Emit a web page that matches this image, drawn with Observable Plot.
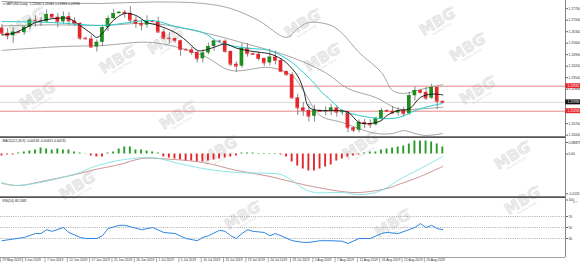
<!DOCTYPE html>
<html><head><meta charset="utf-8">
<script src="https://cdn.jsdelivr.net/npm/d3@7"></script>
<script src="https://cdn.jsdelivr.net/npm/@observablehq/plot@0.6"></script>
<style>
html,body{margin:0;padding:0;background:#fff;}
#chart{position:relative;width:580px;height:263px;overflow:hidden;font-family:"Liberation Sans",Arial,sans-serif;}
#chart svg{position:absolute;left:0;overflow:visible;}
</style></head><body><div id="chart"></div>
<script>
// ---- data (GBPUSD daily, bar index 0 = 29 May 2019, incl. Sunday bars) ----
const opens  = [1.2652,1.2620,1.2605,1.2627,1.2624,1.2657,1.2700,1.2695,1.2690,1.2735,1.2718,1.2690,1.2722,1.2695,1.2680,1.2590,1.2586,1.2536,1.2565,1.2655,1.2710,1.2740,1.2748,1.2742,1.2700,1.2680,1.2670,1.2695,1.2692,1.2628,1.2590,1.2588,1.2575,1.2522,1.2519,1.2503,1.2465,1.2500,1.2540,1.2573,1.2572,1.2510,1.2432,1.2420,1.2530,1.2496,1.2492,1.2467,1.2440,1.2475,1.2455,1.2387,1.2368,1.2227,1.2166,1.2150,1.2115,1.2150,1.2145,1.2150,1.2165,1.2140,1.2142,1.2045,1.2030,1.2077,1.2070,1.2063,1.2100,1.2150,1.2145,1.2135,1.2150,1.2130,1.2240,1.2272,1.2260,1.2225,1.2290,1.22060];
const highs  = [1.2673,1.2649,1.2654,1.2633,1.2664,1.2714,1.2727,1.2715,1.2763,1.2738,1.2740,1.2750,1.2745,1.2714,1.2686,1.2596,1.2606,1.2580,1.2670,1.2726,1.2766,1.2752,1.2758,1.2783,1.2720,1.2700,1.2727,1.2700,1.2717,1.2644,1.2624,1.2591,1.2579,1.2526,1.2534,1.2511,1.2519,1.2560,1.2580,1.2578,1.2580,1.2512,1.2447,1.2557,1.2557,1.2500,1.2507,1.2469,1.2522,1.2511,1.2466,1.2390,1.2380,1.2249,1.2199,1.2188,1.2182,1.2155,1.2173,1.2188,1.2180,1.2155,1.2145,1.2050,1.2092,1.2096,1.2093,1.2110,1.2163,1.2155,1.2175,1.2168,1.2170,1.2260,1.2293,1.2275,1.2290,1.2310,1.2295,1.22081];
const lows   = [1.2606,1.2580,1.2559,1.2620,1.2610,1.2640,1.2660,1.2662,1.2680,1.2715,1.2653,1.2675,1.2669,1.2663,1.2576,1.2582,1.2530,1.2506,1.2540,1.2631,1.2705,1.2738,1.2713,1.2681,1.2650,1.2635,1.2651,1.2688,1.2620,1.2580,1.2556,1.2560,1.2480,1.2515,1.2487,1.2440,1.2439,1.2489,1.2510,1.2565,1.2498,1.2417,1.2382,1.2408,1.2475,1.2485,1.2452,1.2418,1.2423,1.2427,1.2383,1.2360,1.2218,1.2119,1.2114,1.2080,1.2080,1.2140,1.2118,1.2119,1.2110,1.2120,1.2015,1.2015,1.2015,1.2040,1.2040,1.2055,1.2090,1.2140,1.2126,1.2114,1.2110,1.2120,1.2208,1.2250,1.2210,1.2218,1.2155,1.21983];
const closes = [1.2620,1.2605,1.2627,1.2624,1.2657,1.2700,1.2695,1.2690,1.2735,1.2718,1.2690,1.2722,1.2695,1.2680,1.2590,1.2586,1.2536,1.2565,1.2655,1.2710,1.2740,1.2748,1.2742,1.2700,1.2680,1.2670,1.2695,1.2692,1.2628,1.2590,1.2588,1.2575,1.2522,1.2519,1.2503,1.2465,1.2500,1.2540,1.2573,1.2572,1.2510,1.2432,1.2420,1.2530,1.2496,1.2492,1.2467,1.2440,1.2475,1.2455,1.2387,1.2368,1.2227,1.2166,1.2150,1.2115,1.2150,1.2145,1.2150,1.2165,1.2140,1.2142,1.2045,1.2030,1.2077,1.2070,1.2063,1.2100,1.2150,1.2145,1.2135,1.2150,1.2130,1.2240,1.2272,1.2260,1.2225,1.2290,1.2206,1.21996];

const fastMaIdx = [0,2,4,6,8,10,12,14,16,17,18,19,20,22,24,26,28,31,33,35,36,38,40,42,44,46,48,50,51,53,54,55,57,60,62,64,66,68,69,71,73,75,77,79];
const fastMa    = [1.2610,1.2620,1.2649,1.2686,1.2704,1.2712,1.2710,1.2668,1.2619,1.2595,1.2620,1.2660,1.2700,1.2741,1.2729,1.2686,1.2668,1.2625,1.2576,1.2516,1.2515,1.2535,1.2555,1.2530,1.2515,1.2505,1.2495,1.2465,1.2440,1.2360,1.2280,1.2170,1.2150,1.2150,1.2140,1.2077,1.2071,1.2089,1.2120,1.2150,1.2160,1.2230,1.2250,1.2245];
const slowMaIdx = [0,9,18,27,31,36,39,43,48,50,52,54,56,57,59,61,64,68,71,75,79];
const slowMa    = [1.2692,1.2686,1.2668,1.2698,1.2662,1.2625,1.2564,1.2534,1.2515,1.2485,1.2442,1.2382,1.2315,1.2272,1.2211,1.2150,1.2120,1.2101,1.2107,1.2162,1.2193];
const bbUpIdx  = [0,9,18,27,36,41,46,51,53,55,59,61,64,68,70,72,75,79];
const bbUp     = [1.2814,1.2805,1.2802,1.2811,1.2802,1.2771,1.2698,1.2595,1.2649,1.2686,1.2668,1.2619,1.2503,1.2382,1.2272,1.2254,1.2278,1.2308];
const bbMidIdx = [0,9,18,27,36,43,52,58,62,67,71,75,79];
const bbMid    = [1.2665,1.2672,1.2668,1.2680,1.2625,1.2564,1.2473,1.2380,1.2284,1.2229,1.2160,1.2160,1.2170];
const bbLowIdx = [0,5,11,18,27,36,41,48,52,54,57,61,64,67,70,72,74,76,79];
const bbLow    = [1.2516,1.2528,1.2540,1.2546,1.2564,1.2485,1.2394,1.2412,1.2363,1.2272,1.2120,1.2077,1.2040,1.2010,1.2010,1.2028,1.2010,1.1998,1.2010];

const priceTicks = [1.2000,1.2070,1.2280,1.2350,1.2420,1.2490,1.2560,1.2630,1.2700,1.2770];
const priceBoxes = [1.22981,1.21996,1.21458];
const priceBoxColors = ["#e5262b","#111111","#e5262b"];

const macdHist = [-0.00066,-0.00033,-0.00033,0.00033,0.00066,0.00099,0.00132,0.00198,0.00165,0.00132,0.00165,0.00132,0.00132,0.00066,0.00033,0.0001,-0.00066,-0.00099,-0.00099,0.00033,0.00066,0.00165,0.00231,0.00231,0.00132,0.00132,0.00099,0.00066,0.00033,-0.00099,-0.00132,-0.00165,-0.00198,-0.00231,-0.00231,-0.00264,-0.00264,-0.00231,-0.00198,-0.00165,-0.00132,-0.00099,-0.00066,0.00033,0.00033,0.00033,0.00017,0.00017,0.00017,0.00017,-0.00033,-0.00099,-0.00264,-0.00396,-0.00495,-0.00561,-0.00561,-0.00495,-0.00429,-0.00363,-0.00231,-0.00165,-0.00099,-0.00066,-0.00033,0.00033,0.00066,0.00066,0.00132,0.00165,0.00198,0.00231,0.00264,0.0033,0.00429,0.00429,0.00429,0.00396,0.0033,0.00231];
const macdMainIdx = [0,2,6,10,14,16,21,27,31,36,42,48,50,52,54,56,61,64,67,69,71,75,79];
const macdMain    = [-0.0094,-0.0104,-0.0097,-0.0081,-0.0061,-0.0045,-0.0021,-0.0012,-0.0028,-0.0048,-0.0061,-0.0064,-0.0068,-0.0087,-0.0114,-0.0127,-0.0127,-0.0134,-0.0127,-0.0111,-0.0087,-0.0048,-0.0008];
const macdSigIdx  = [0,3,8,14,16,21,25,28,36,42,48,54,61,64,69,71,75,79];
const macdSig     = [-0.0097,-0.0104,-0.0087,-0.0064,-0.0054,-0.0035,-0.0015,-0.0015,-0.0028,-0.0054,-0.0074,-0.0101,-0.0124,-0.0127,-0.0114,-0.0101,-0.0074,-0.0041];
const macdTicks = [0.0038,0,-0.01313];
const macdTickText = ["0.00479","0.00","-0.0131"];

const rsiIdx = [0,4,6,7,8,9,11,12,14,15,17,18,19,21,22,25,27,29,31,33,35,36,37,39,40,41,42,43,44,45,47,48,49,50,52,54,55,57,59,61,62,64,66,68,69,71,74,75,76,77,78,79];
const rsiVal = [26,32,39,39,46,43,50,41,32,30,30,35,48,54,54,46,50,41,39,30,26,32,35,45,43,35,30,39,46,43,41,35,39,35,26,23,23,26,26,25,21,30,30,39,41,39,50,57,50,54,48,46];
const rsiLevels = [70,50,30];
const rsiTicks = [100,70,50,30];

const dateLabelIdx = [0,4,8,12,16,20,24,28,32,36,40,44,48,52,56,60,64,68,72,76];
const dateLabels = ["29 May 2019","3 Jun 2019","7 Jun 2019","12 Jun 2019","17 Jun 2019","21 Jun 2019","26 Jun 2019","1 Jul 2019","5 Jul 2019","10 Jul 2019","15 Jul 2019","19 Jul 2019","24 Jul 2019","29 Jul 2019","2 Aug 2019","7 Aug 2019","12 Aug 2019","16 Aug 2019","21 Aug 2019","26 Aug 2019"];

const titleMain = "\u25BE GBPUSD,Daily  1.22060 1.22081 1.21983 1.21996";
const titleMacd = "MACD(12,26,9) -0.00118 -0.00415 0.00231";
const titleRsi  = "RSI(14) 46.1681";

// ---- layout ----
const XD = [-0.269, 100.99];
const GREEN = "#1e8c1e", RED = "#e5262b";
const STYLE = {fontSize:"3.3px", fontFamily:"'Liberation Sans', Arial, sans-serif", background:"transparent", overflow:"visible", color:"#222"};
const pts = (idx, vals) => idx.map((i,k) => ({i, v: vals[k]}));
const candles = opens.map((o,i) => ({i, o, h: highs[i], l: lows[i], c: closes[i]}));
const col = d => d.c >= d.o ? GREEN : RED;
const root = document.getElementById("chart");

// watermark layer (brand stamp, not data)
const wm = [[30,26],[168,45],[305,28],[440,26],[470,52],[40,100],[180,120],[325,62],[480,95],[222,155],[363,150],[515,160],[80,190],[245,220],[395,228],[525,205],[120,64]];
const wsvg = d3.select(root).append("svg").attr("width",580).attr("height",263).style("top","0px");
wm.forEach(([x,y]) => {
  const g = wsvg.append("g").attr("transform", `translate(${x},${y}) rotate(-32)`);
  g.append("text").attr("text-anchor","middle").attr("font-family","'DejaVu Sans', sans-serif").attr("font-weight","bold").attr("font-size",15).attr("fill","#ececec").attr("stroke","#d6d6d6").attr("stroke-width",0.4).text("MBG");
  g.append("text").attr("text-anchor","middle").attr("y",4.5).attr("font-family","'DejaVu Sans', sans-serif").attr("font-size",3).attr("fill","#d8d8d8").text("Markets Group");
  g.append("text").attr("x",18).attr("y",-8).attr("font-family","'DejaVu Sans', sans-serif").attr("font-size",4).attr("fill","#d8d8d8").text("\u00AE");
});

function place(svg, top){ svg.style.top = top + "px"; root.appendChild(svg); }

const main = Plot.plot({
  width:580, height:137, marginLeft:0, marginRight:15, marginTop:0, marginBottom:0,
  style: STYLE, color:{type:"identity"},
  x:{domain:XD, axis:null},
  y:{domain:[1.19857,1.2820], axis:null},
  marks:[
    Plot.ruleY([priceBoxes[0], priceBoxes[2]], {stroke:"#e06a6a", strokeWidth:0.8}),
    Plot.ruleY([priceBoxes[1]], {stroke:"#cfcfcf", strokeWidth:0.8}),
    Plot.line(pts(bbUpIdx,bbUp), {x:"i", y:"v", stroke:"#8f8f8f", strokeWidth:0.8, curve:"catmull-rom"}),
    Plot.line(pts(bbMidIdx,bbMid), {x:"i", y:"v", stroke:"#8f8f8f", strokeWidth:0.8, curve:"catmull-rom"}),
    Plot.line(pts(bbLowIdx,bbLow), {x:"i", y:"v", stroke:"#8f8f8f", strokeWidth:0.8, curve:"catmull-rom"}),
    Plot.ruleX(candles, {x:"i", y1:"l", y2:"h", stroke:"#6b6b6b", strokeWidth:0.8}),
    Plot.rect(candles, {x1:d=>d.i-0.33, x2:d=>d.i+0.33, y1:"o", y2:"c", fill:col}),
    Plot.ruleY(candles, {y:"c", x1:d=>d.i-0.33, x2:d=>d.i+0.33, stroke:col, strokeWidth:0.8}),
    Plot.line(pts(slowMaIdx,slowMa), {x:"i", y:"v", stroke:"#29cccc", strokeWidth:1, curve:"catmull-rom"}),
    Plot.line(pts(fastMaIdx,fastMa), {x:"i", y:"v", stroke:"#111", strokeWidth:0.9, curve:"catmull-rom"}),
    Plot.ruleX([XD[1]], {stroke:"#666", strokeWidth:0.8}),
    Plot.ruleY([1.19881], {stroke:"#555", strokeWidth:1.6}),
    Plot.axisY(priceTicks, {anchor:"right", tickSize:2, tickPadding:1, tickFormat:d=>d.toFixed(5), stroke:"#666", fill:"#333"}),
    Plot.rect(priceBoxes, {x1:XD[1]+0.05, x2:103.7, y1:d=>d-0.0015, y2:d=>d+0.0015, fill:(d,i)=>priceBoxColors[i]}),
    Plot.text(priceBoxes, {x:XD[1]+0.35, y:d=>d, text:d=>d.toFixed(5), fill:"#fff", textAnchor:"start"}),
    Plot.text([titleMain], {frameAnchor:"top-left", dx:2, dy:2, fill:"#222"})
  ]
});
place(main, 0);

const hist = macdHist.map((v,i) => ({i, v}));
const macd = Plot.plot({
  width:580, height:60, marginLeft:0, marginRight:15, marginTop:0, marginBottom:0,
  style: STYLE, color:{type:"identity"},
  x:{domain:XD, axis:null},
  y:{domain:[-0.014355,0.005445], axis:null},
  marks:[
    Plot.rect(hist, {x1:d=>d.i-0.17, x2:d=>d.i+0.17, y1:0, y2:"v", fill:d=>d.v>=0?"#2a9a2a":"#e5262b"}),
    Plot.line(pts(macdSigIdx,macdSig), {x:"i", y:"v", stroke:"#c98888", strokeWidth:0.9, curve:"catmull-rom"}),
    Plot.line(pts(macdMainIdx,macdMain), {x:"i", y:"v", stroke:"#7fe3e3", strokeWidth:0.9, curve:"catmull-rom"}),
    Plot.ruleX([XD[1]], {stroke:"#666", strokeWidth:0.8}),
    Plot.ruleY([-0.014223], {stroke:"#555", strokeWidth:1.6}),
    Plot.axisY(macdTicks, {anchor:"right", tickSize:2, tickPadding:1, tickFormat:(d,i)=>macdTickText[i], stroke:"#666", fill:"#333"}),
    Plot.text([titleMacd], {frameAnchor:"top-left", dx:2, dy:2, fill:"#222"})
  ]
});
place(macd, 137);

const rsi = Plot.plot({
  width:580, height:66, marginLeft:0, marginRight:15, marginTop:0, marginBottom:6,
  style: STYLE, color:{type:"identity"},
  x:{domain:XD, axis:null},
  y:{domain:[-4.5,104.5], axis:null},
  marks:[
    Plot.ruleY(rsiLevels, {stroke:"#8a8a8a", strokeWidth:0.7, strokeDasharray:"1,1.2"}),
    Plot.line(pts(rsiIdx,rsiVal), {x:"i", y:"v", stroke:"#2f86e0", strokeWidth:1}),
    Plot.ruleX([XD[1]], {stroke:"#666", strokeWidth:0.8}),
    Plot.ruleY([-4.5], {stroke:"#777", strokeWidth:0.7}),
    Plot.axisY(rsiTicks, {anchor:"right", tickSize:2, tickPadding:1, stroke:"#666", fill:"#333"}),
    Plot.ruleX(dateLabelIdx, {x:d=>d-0.3, y1:-4.5, y2:-14, stroke:"#777", strokeWidth:0.6}),
    Plot.text(dateLabelIdx, {x:d=>d, y:-4.5, dy:2.8, dx:0.3, text:(d,i)=>dateLabels[i], textAnchor:"start", lineAnchor:"middle", fill:"#333"}),
    Plot.text([titleRsi], {frameAnchor:"top-left", dx:2, dy:2, fill:"#222"})
  ]
});
place(rsi, 197);
</script></body></html>
